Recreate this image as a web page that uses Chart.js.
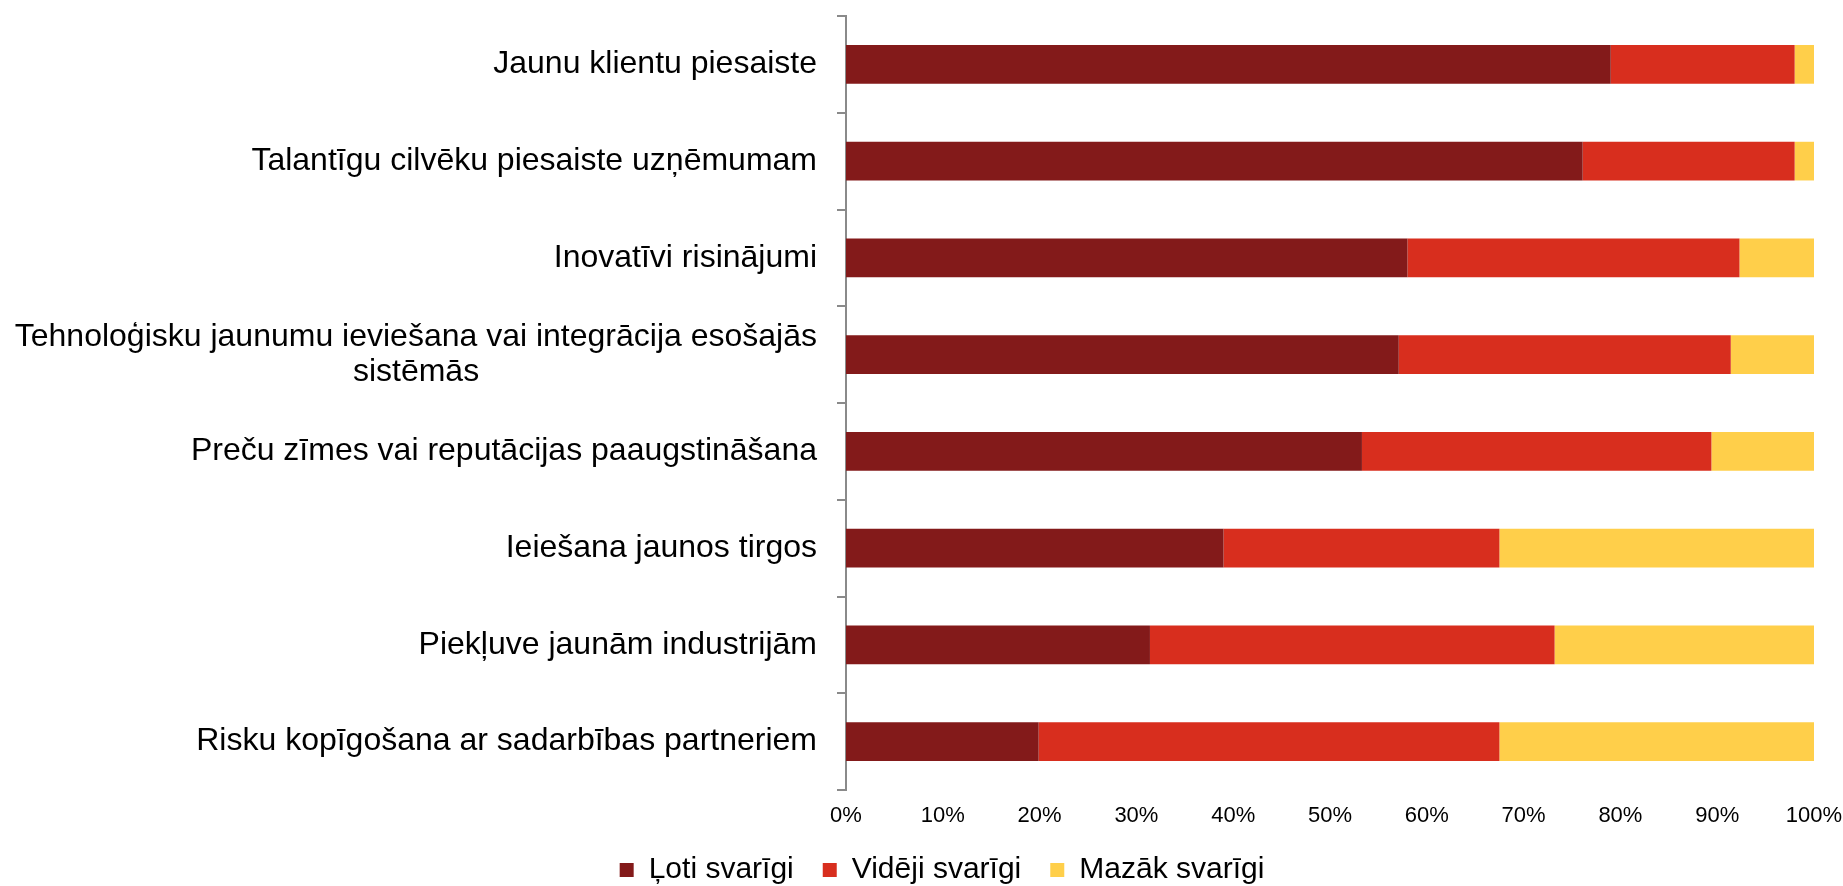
<!DOCTYPE html>
<html>
<head>
<meta charset="utf-8">
<script src="https://cdn.jsdelivr.net/npm/chart.js@4.4.1/dist/chart.umd.min.js"></script>
<style>
  html, body { margin: 0; padding: 0; background: #fff; }
  #wrap { width: 1843px; height: 886px; }
</style>
</head>
<body>
<div id="wrap"><canvas id="chart" width="1843" height="886"></canvas></div>
<script>
// kategorijas un vērtības (%)
const categories = [
  'Jaunu klientu piesaiste',
  'Talantīgu cilvēku piesaiste uzņēmumam',
  'Inovatīvi risinājumi',
  ['Tehnoloģisku jaunumu ieviešana vai integrācija esošajās', 'sistēmās'],
  'Preču zīmes vai reputācijas paaugstināšana',
  'Ieiešana jaunos tirgos',
  'Piekļuve jaunām industrijām',
  'Risku kopīgošana ar sadarbības partneriem'
];
const seriesNames = ['Ļoti svarīgi', 'Vidēji svarīgi', 'Mazāk svarīgi'];
const lotiSvarigi = [79.0, 76.1, 58.0, 57.1, 53.3, 39.0, 31.4, 19.9];
const videjiSvarigi = [19.0, 21.9, 34.3, 34.3, 36.1, 28.5, 41.8, 47.6];
const mazakSvarigi = [2.0, 2.0, 7.7, 8.6, 10.6, 32.5, 26.8, 32.5];
const xTicks = [0, 10, 20, 30, 40, 50, 60, 70, 80, 90, 100];

const colors = ['#831a1a', '#d82e1e', '#ffcf4a'];
const FONT = "'Liberation Sans', Arial, sans-serif";
const labelFont = { family: FONT, size: 32, lineHeight: 1.07 };

// centrē īsākās rindas daudzrindu etiķetē
const mctx = document.createElement('canvas').getContext('2d');
mctx.font = labelFont.size + 'px ' + FONT;
function centerLines(lbl) {
  if (!Array.isArray(lbl)) return lbl;
  const widths = lbl.map(s => mctx.measureText(s).width);
  const maxW = Math.max(...widths);
  const sp = mctx.measureText('\u00A0').width;
  return lbl.map((s, i) => s + '\u00A0'.repeat(Math.round((maxW - widths[i]) / 2 / sp)));
}

// leģendu nedaudz pa labi
const shiftLegend = {
  id: 'shiftLegend',
  afterLayout(chart) {
    if (!chart.legend) return;
    chart.legend.left += 35;
    chart.legend.right += 35;
  }
};

const ctx = document.getElementById('chart').getContext('2d');
new Chart(ctx, {
  type: 'bar',
  data: {
    labels: categories,
    datasets: [
      { label: seriesNames[0], data: lotiSvarigi, backgroundColor: colors[0] },
      { label: seriesNames[1], data: videjiSvarigi, backgroundColor: colors[1] },
      { label: seriesNames[2], data: mazakSvarigi, backgroundColor: colors[2] }
    ]
  },
  options: {
    indexAxis: 'y',
    responsive: false,
    animation: false,
    layout: { padding: { left: 0, right: 29, top: 16, bottom: -9 } },
    datasets: { bar: { barPercentage: 0.4, categoryPercentage: 1, borderWidth: 0 } },
    scales: {
      x: {
        stacked: true,
        min: 0,
        max: 100,
        afterBuildTicks: s => { s.ticks = xTicks.map(v => ({ value: v })); },
        afterFit: s => { s.height = 36; s.paddingLeft = 0; s.paddingRight = 0; },
        grid: { display: false, drawTicks: false },
        border: { display: false },
        ticks: {
          padding: 13,
          color: '#000',
          font: { family: FONT, size: 22 },
          callback: v => v + '%'
        }
      },
      y: {
        stacked: true,
        afterFit: s => { s.width = 846; s.paddingTop = 0; s.paddingBottom = 0; },
        grid: { drawOnChartArea: false, drawTicks: true, tickLength: 9, color: '#8a8a8a', lineWidth: 2, offset: true },
        border: { display: true, color: '#8a8a8a', width: 2 },
        ticks: {
          padding: 20,
          color: '#000',
          font: labelFont,
          callback: function (v) { return centerLines(categories[v]); }
        }
      }
    },
    plugins: {
      tooltip: { enabled: false },
      legend: {
        position: 'bottom',
        labels: {
          color: '#000',
          font: { family: FONT, size: 30 },
          boxWidth: 14,
          boxHeight: 14,
          padding: 29
        }
      }
    }
  },
  plugins: [shiftLegend]
});
</script>
</body>
</html>
